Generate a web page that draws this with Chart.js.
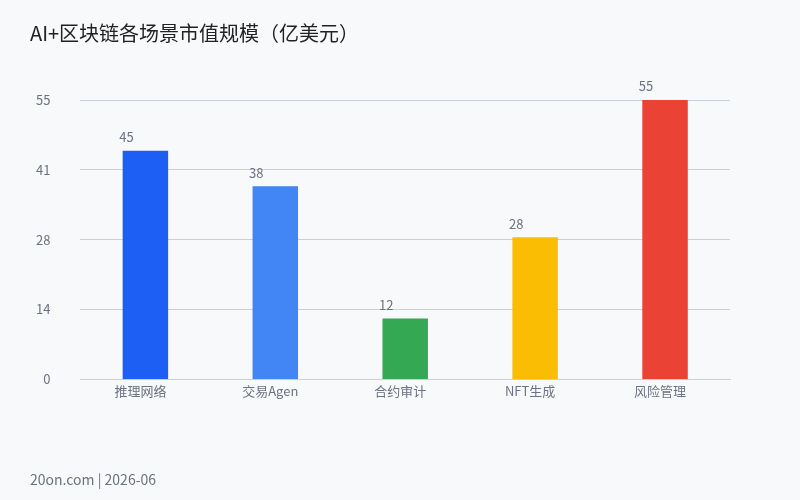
<!DOCTYPE html>
<html lang="zh">
<head>
    <meta charset="UTF-8">
    <title>AI+区块链各场景市值规模</title>
    <style>
        html, body {
            margin: 0;
            padding: 0;
            background: #f8f9fb;
            font-family: 'Noto Sans CJK SC', 'Noto Sans', sans-serif;
        }

        .wrap {
            position: relative;
            width: 800px;
            height: 500px;
        }

        .title {
            position: absolute;
            left: 30px;
            top: 18px;
            font-size: 20px;
            color: #222;
            line-height: 30px;
        }

        .footer {
            position: absolute;
            left: 30px;
            top: 469px;
            font-size: 14px;
            color: #6b7280;
            line-height: 20px;
        }

        canvas {
            position: absolute;
            left: 0;
            top: 0;
        }
    </style>
</head>
<body>
    <div class="wrap">
        <canvas id="chart" width="800" height="500"></canvas>
        <div class="title">AI+区块链各场景市值规模（亿美元）</div>
        <div class="footer">20on.com | 2026-06</div>
    </div>

    <script src="https://cdn.jsdelivr.net/npm/chart.js"></script>
    <script>
        // data
        const categories = ['推理网络', '交易Agen', '合约审计', 'NFT生成', '风险管理'];
        const values = [45, 38, 12, 28, 55];
        const barColors = ['#1d5ff5', '#4285f4', '#34a853', '#fbbc04', '#ea4335'];
        const axisMax = 55;

        const fontFamily = "'Noto Sans CJK SC', 'Noto Sans', sans-serif";

        // value labels above the bars
        const valueLabels = {
            id: 'valueLabels',
            afterDatasetsDraw(chart) {
                const ctx = chart.ctx;
                const meta = chart.getDatasetMeta(0);
                ctx.save();
                ctx.font = '13px ' + fontFamily;
                ctx.fillStyle = '#6b7280';
                ctx.textAlign = 'center';
                ctx.textBaseline = 'bottom';
                meta.data.forEach((bar, i) => {
                    ctx.fillText(values[i], bar.x - 19, bar.y - 7);
                });
                ctx.restore();
            }
        };

        new Chart(document.getElementById('chart'), {
            type: 'bar',
            data: {
                labels: categories,
                datasets: [{
                    data: values,
                    backgroundColor: barColors,
                    barPercentage: 0.7,
                    categoryPercentage: 0.5
                }]
            },
            options: {
                responsive: false,
                animation: false,
                layout: {
                    padding: { top: 100, left: 6, right: 70, bottom: 97 }
                },
                plugins: {
                    legend: { display: false },
                    tooltip: { enabled: false }
                },
                scales: {
                    x: {
                        grid: { display: false, drawTicks: false },
                        border: { color: '#c8cfdd' },
                        ticks: {
                            color: '#6b7280',
                            font: { family: fontFamily, size: 13 },
                            padding: 4,
                            labelOffset: -5
                        }
                    },
                    y: {
                        min: 0,
                        max: axisMax,
                        grid: { color: '#c8cfdd', drawTicks: false },
                        border: { display: false },
                        ticks: {
                            stepSize: axisMax / 4,
                            color: '#6b7280',
                            font: { family: fontFamily, size: 13 },
                            padding: 30,
                            callback: v => Math.round(v)
                        }
                    }
                }
            },
            plugins: [valueLabels]
        });
    </script>
</body>
</html>
